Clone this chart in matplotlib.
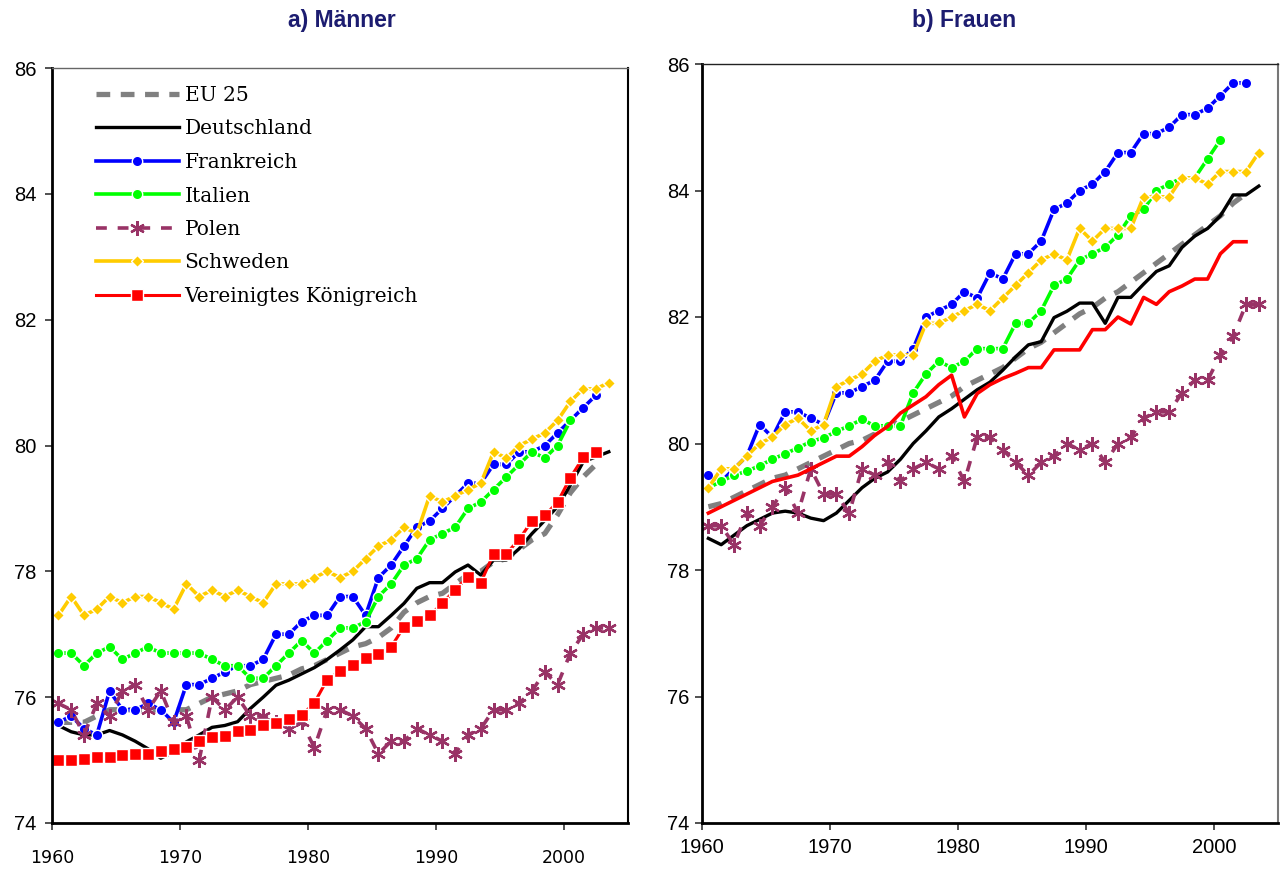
import numpy as np
import matplotlib
matplotlib.use("Agg")
import matplotlib.pyplot as plt

# ---------------- data ----------------
years_all = list(range(1960, 2004))

labels = ["EU 25", "Deutschland", "Frankreich", "Italien", "Polen", "Schweden",
          "Vereinigtes Königreich"]

# Männer
m_eu25 = [75.6, 75.6, 75.6, 75.7, 75.8, 75.8, 75.8, 75.8, 75.8, 75.8,
          75.8, 75.9, 76.0, 76.05, 76.1, 76.2, 76.25, 76.3, 76.35, 76.45,
          76.5, 76.6, 76.7, 76.8, 76.85, 76.95, 77.1, 77.35, 77.5, 77.6,
          77.65, 77.8, 77.95, 78.0, 78.15, 78.2, 78.35, 78.5, 78.6, 78.9,
          79.25, 79.5, 79.7]
m_de = [75.55, 75.45, 75.4, 75.4, 75.47, 75.4, 75.3, 75.18, 75.03, 75.13,
        75.29, 75.4, 75.52, 75.55, 75.61, 75.82, 76.0, 76.19, 76.27, 76.37,
        76.47, 76.6, 76.75, 76.91, 77.12, 77.12, 77.3, 77.49, 77.73, 77.82,
        77.82, 77.99, 78.1, 77.94, 78.18, 78.18, 78.36, 78.6, 78.81, 79.03,
        79.37, 79.74, 79.82, 79.9]
m_fr = [75.6, 75.7, 75.5, 75.4, 76.1, 75.8, 75.8, 75.9, 75.8, 75.6,
        76.2, 76.2, 76.3, 76.4, 76.5, 76.5, 76.6, 77.0, 77.0, 77.2,
        77.3, 77.3, 77.6, 77.6, 77.3, 77.9, 78.1, 78.4, 78.7, 78.8,
        79.0, 79.2, 79.4, 79.4, 79.7, 79.7, 79.9, 79.9, 80.0, 80.2,
        80.4, 80.6, 80.8]
m_it = [76.7, 76.7, 76.5, 76.7, 76.8, 76.6, 76.7, 76.8, 76.7, 76.7,
        76.7, 76.7, 76.6, 76.5, 76.5, 76.3, 76.3, 76.5, 76.7, 76.9,
        76.7, 76.9, 77.1, 77.1, 77.2, 77.6, 77.8, 78.1, 78.2, 78.5,
        78.6, 78.7, 79.0, 79.1, 79.3, 79.5, 79.7, 79.9, 79.8, 80.0,
        80.4]
m_pl = [75.9, 75.8, 75.4, 75.9, 75.7, 76.1, 76.2, 75.8, 76.1, 75.6,
        75.7, 75.0, 76.0, 75.8, 76.0, 75.7, 75.7, 75.6, 75.5, 75.6,
        75.2, 75.8, 75.8, 75.7, 75.5, 75.1, 75.3, 75.3, 75.5, 75.4,
        75.3, 75.1, 75.4, 75.5, 75.8, 75.8, 75.9, 76.1, 76.4, 76.2,
        76.7, 77.0, 77.1, 77.1]
m_se = [77.3, 77.6, 77.3, 77.4, 77.6, 77.5, 77.6, 77.6, 77.5, 77.4,
        77.8, 77.6, 77.7, 77.6, 77.7, 77.6, 77.5, 77.8, 77.8, 77.8,
        77.9, 78.0, 77.9, 78.0, 78.2, 78.4, 78.5, 78.7, 78.6, 79.2,
        79.1, 79.2, 79.3, 79.4, 79.9, 79.8, 80.0, 80.1, 80.2, 80.4,
        80.7, 80.9, 80.9, 81.0]
m_uk = [75.0, 75.0, 75.02, 75.05, 75.05, 75.08, 75.1, 75.1, 75.14, 75.18,
        75.21, 75.3, 75.37, 75.39, 75.46, 75.48, 75.55, 75.59, 75.65, 75.71,
        75.91, 76.28, 76.41, 76.51, 76.62, 76.69, 76.8, 77.12, 77.21, 77.3,
        77.49, 77.71, 77.91, 77.82, 78.28, 78.28, 78.51, 78.8, 78.89, 79.1,
        79.49, 79.81, 79.9]

# Frauen
f_eu25 = [79.0, 79.05, 79.15, 79.25, 79.35, 79.45, 79.5, 79.6, 79.7, 79.8,
          79.9, 80.0, 80.05, 80.15, 80.25, 80.35, 80.45, 80.55, 80.65, 80.75,
          80.9, 81.0, 81.1, 81.2, 81.35, 81.5, 81.6, 81.75, 81.9, 82.05,
          82.15, 82.3, 82.4, 82.55, 82.7, 82.85, 83.0, 83.15, 83.3, 83.45,
          83.6, 83.8, 83.95]
f_de = [78.5, 78.4, 78.55, 78.7, 78.8, 78.9, 78.93, 78.9, 78.82, 78.78,
        78.9, 79.1, 79.3, 79.45, 79.55, 79.75, 80.0, 80.2, 80.42, 80.55,
        80.7, 80.85, 80.97, 81.16, 81.37, 81.56, 81.61, 81.99, 82.09, 82.22,
        82.22, 81.9, 82.31, 82.31, 82.52, 82.72, 82.81, 83.1, 83.28, 83.4,
        83.6, 83.93, 83.93, 84.07]
f_fr = [79.5, 79.4, 79.6, 79.8, 80.3, 80.1, 80.5, 80.5, 80.4, 80.3,
        80.8, 80.8, 80.9, 81.0, 81.3, 81.3, 81.5, 82.0, 82.1, 82.2,
        82.4, 82.3, 82.7, 82.6, 83.0, 83.0, 83.2, 83.7, 83.8, 84.0,
        84.1, 84.3, 84.6, 84.6, 84.9, 84.9, 85.0, 85.2, 85.2, 85.3,
        85.5, 85.7, 85.7]
f_it = [79.3, 79.4, 79.5, 79.56, 79.65, 79.75, 79.84, 79.93, 80.03, 80.09,
        80.19, 80.28, 80.38, 80.28, 80.28, 80.28, 80.8, 81.1, 81.3, 81.2,
        81.3, 81.5, 81.5, 81.5, 81.9, 81.9, 82.1, 82.5, 82.6, 82.9,
        83.0, 83.1, 83.3, 83.6, 83.7, 84.0, 84.1, 84.2, 84.2, 84.5,
        84.8]
f_pl = [78.7, 78.7, 78.4, 78.9, 78.7, 79.0, 79.3, 78.9, 79.6, 79.2,
        79.2, 78.9, 79.6, 79.5, 79.7, 79.4, 79.6, 79.7, 79.6, 79.8,
        79.4, 80.1, 80.1, 79.9, 79.7, 79.5, 79.7, 79.8, 80.0, 79.9,
        80.0, 79.7, 80.0, 80.1, 80.4, 80.5, 80.5, 80.8, 81.0, 81.0,
        81.4, 81.7, 82.2, 82.2]
f_se = [79.3, 79.6, 79.6, 79.8, 80.0, 80.1, 80.3, 80.4, 80.2, 80.3,
        80.9, 81.0, 81.1, 81.3, 81.4, 81.4, 81.4, 81.9, 81.9, 82.0,
        82.1, 82.2, 82.1, 82.3, 82.5, 82.7, 82.9, 83.0, 82.9, 83.4,
        83.2, 83.4, 83.4, 83.4, 83.9, 83.9, 83.9, 84.2, 84.2, 84.1,
        84.3, 84.3, 84.3, 84.6]
f_uk = [78.9, 79.0, 79.1, 79.2, 79.3, 79.4, 79.45, 79.5, 79.6, 79.7,
        79.8, 79.8, 79.95, 80.13, 80.27, 80.48, 80.61, 80.74, 80.93, 81.08,
        80.42, 80.79, 80.93, 81.03, 81.11, 81.2, 81.2, 81.48, 81.48, 81.48,
        81.8, 81.8, 82.0, 81.89, 82.31, 82.2, 82.4, 82.49, 82.6, 82.6,
        83.0, 83.19, 83.19]

yticks = [74, 76, 78, 80, 82, 84, 86]
xticks = [1960, 1970, 1980, 1990, 2000]

# ---------------- style ----------------
W, H = 1281, 869
fig = plt.figure(figsize=(W / 100, H / 100), dpi=100)

C_GREY = "#808080"
C_BLUE = "#0000FF"
C_GREEN = "#00FF00"
C_PURP = "#993366"
C_YEL = "#FFCC00"
C_RED = "#FF0000"
NAVY = "#1c1c70"

asterisk = (6, 2, 0)


def xs(vals):
    return np.array(years_all[:len(vals)]) + 0.5


def draw(ax, series, uk_markers):
    eu, de, fr, it, pl, se, uk = series
    h = []
    h += ax.plot(xs(eu), eu, color=C_GREY, lw=3.8, dashes=(2.6, 2.0),
                 solid_capstyle="butt", dash_capstyle="butt")
    h += ax.plot(xs(de), de, color="black", lw=2.4)
    h += ax.plot(xs(fr), fr, color=C_BLUE, lw=2.6, marker="o", ms=7.5,
                 mfc=C_BLUE, mec="white", mew=1.0)
    h += ax.plot(xs(it), it, color=C_GREEN, lw=2.6, marker="o", ms=7.5,
                 mfc=C_GREEN, mec="white", mew=1.0)
    h += ax.plot(xs(pl), pl, color=C_PURP, lw=2.6, dashes=(3, 3),
                 marker=asterisk, ms=10.5, mec=C_PURP, mew=1.7)
    h += ax.plot(xs(se), se, color=C_YEL, lw=2.6, marker="D", ms=6,
                 mfc=C_YEL, mec="white", mew=1.0)
    if uk_markers:
        h += ax.plot(xs(uk), uk, color=C_RED, lw=2.2, marker="s", ms=8,
                     mfc=C_RED, mec="white", mew=1.0)
    else:
        h += ax.plot(xs(uk), uk, color=C_RED, lw=2.6)
    return h


def frame(ax, top_col, right_col):
    ax.set_xlim(1960, 2005)
    ax.set_ylim(74, 86)
    ax.set_xticks(xticks)
    ax.set_yticks(yticks)
    ax.spines["left"].set_linewidth(2.0)
    ax.spines["bottom"].set_linewidth(2.0)
    ax.spines["top"].set_linewidth(1.0)
    ax.spines["right"].set_linewidth(1.5)
    ax.spines["top"].set_color(top_col)
    ax.spines["right"].set_color(right_col)
    ax.tick_params(axis="both", direction="out", length=5, width=1.2,
                   color="#333333")


# Left panel: Männer
ax1 = fig.add_axes([52 / W, 46 / H, 576 / W, 755 / H])
h1 = draw(ax1, [m_eu25, m_de, m_fr, m_it, m_pl, m_se, m_uk], True)
frame(ax1, "#666666", "black")
for t in ax1.get_xticklabels():
    t.set_fontfamily("DejaVu Sans")
    t.set_fontsize(12.5)
for t in ax1.get_yticklabels():
    t.set_fontfamily("Liberation Sans")
    t.set_fontsize(14.5)
ax1.tick_params(axis="x", pad=14)
ax1.tick_params(axis="y", pad=6)

# Right panel: Frauen
ax2 = fig.add_axes([702 / W, 46 / H, 576 / W, 759 / H])
draw(ax2, [f_eu25, f_de, f_fr, f_it, f_pl, f_se, f_uk], False)
frame(ax2, "#222222", "#777777")
for t in ax2.get_xticklabels() + ax2.get_yticklabels():
    t.set_fontfamily("Liberation Sans")
    t.set_fontsize(14.5)
ax2.tick_params(axis="x", pad=6)
ax2.tick_params(axis="y", pad=4)

# Legend
leg = ax1.legend(h1, labels, loc="upper left",
                 bbox_to_anchor=(96 / W, 1 - 86 / H),
                 bbox_transform=fig.transFigure, frameon=False,
                 handlelength=4.1, handletextpad=0.3, labelspacing=0.72,
                 borderpad=0, borderaxespad=0,
                 prop={"family": "DejaVu Serif", "size": 14.5})

# Titles
fig.text(342 / W, 1 - 20 / H, "a) Männer", ha="center", va="center",
         fontsize=16.5, fontweight="bold", color=NAVY, family="Liberation Sans")
fig.text(964 / W, 1 - 20 / H, "b) Frauen", ha="center", va="center",
         fontsize=16.5, fontweight="bold", color=NAVY, family="Liberation Sans")

fig.savefig("out.png", dpi=100)
